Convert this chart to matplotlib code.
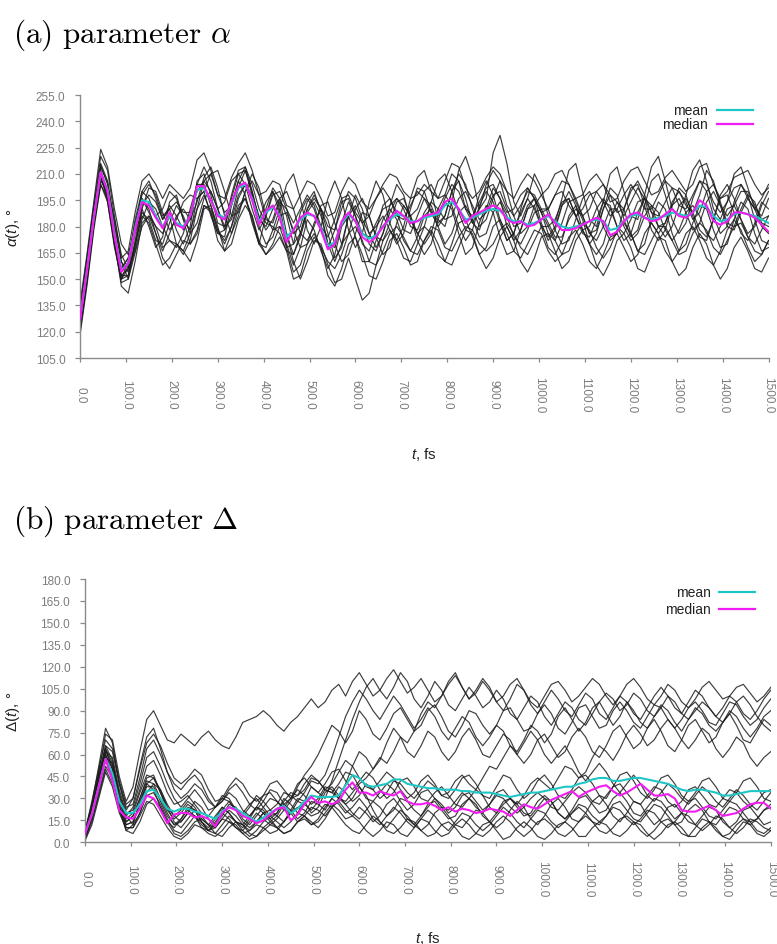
import numpy as np
import matplotlib
matplotlib.use("Agg")
import matplotlib.pyplot as plt
from matplotlib.ticker import MultipleLocator, StrMethodFormatter

plt.rcParams['font.family'] = ['Liberation Sans', 'DejaVu Sans']
plt.rcParams['mathtext.fontset'] = 'custom'
plt.rcParams['mathtext.rm'] = 'Liberation Sans'
plt.rcParams['mathtext.it'] = 'Liberation Sans:italic'

STEP = 15  # fs between stored samples

# ---- parameter alpha (deg) ----
alpha_median = [
    127, 155, 185, 211, 200, 175, 154, 159, 178, 194,
    192, 185, 179, 188, 181, 179, 186, 203, 203, 195,
    186, 184, 194, 203, 205, 195, 181, 189, 192, 185,
    171, 178, 185, 188, 186, 178, 167, 170, 183, 188,
    183, 174, 171, 174, 180, 185, 189, 186, 182, 183,
    186, 187, 188, 194, 196, 190, 182, 186, 188, 190,
    192, 190, 184, 182, 183, 180, 181, 184, 187, 182,
    178, 178, 179, 181, 183, 185, 183, 175, 177, 183,
    187, 188, 185, 183, 184, 187, 190, 186, 185, 188,
    195, 192, 183, 181, 183, 188, 188, 187, 185, 181,
    177]
alpha_mean = [
    127, 155, 185, 211, 201, 176, 155, 159, 179, 195,
    194, 186, 180, 186, 182, 180, 186, 201, 202, 195,
    187, 185, 193, 202, 204, 196, 183, 188, 191, 186,
    174, 178, 184, 187, 186, 179, 169, 171, 182, 187,
    183, 176, 173, 175, 180, 184, 187, 186, 183, 183,
    185, 186, 187, 192, 194, 190, 184, 185, 187, 189,
    190, 189, 185, 183, 183, 181, 182, 184, 186, 183,
    180, 179, 180, 181, 183, 184, 183, 178, 179, 183,
    186, 187, 185, 184, 185, 186, 188, 187, 186, 188,
    192, 191, 186, 183, 184, 187, 188, 187, 186, 184,
    182]
alpha_runs = [
    [122, 150, 183, 214, 205, 178, 150, 152, 172, 192,
     198, 194, 184, 190, 178, 170, 180, 204, 214, 206,
     190, 178, 186, 202, 212, 200, 184, 180, 190, 196,
     186, 170, 176, 190, 198, 190, 176, 162, 168, 186,
     198, 190, 176, 168, 176, 192, 204, 198, 184, 176,
     180, 194, 206, 210, 200, 188, 178, 184, 198, 206,
     198, 184, 172, 176, 190, 202, 196, 182, 172, 178,
     192, 200, 192, 178, 170, 176, 190, 202, 198, 184,
     174, 178, 192, 206, 210, 198, 184, 176, 182, 196,
     206, 200, 186, 176, 180, 194, 204, 198, 184, 172,
     170],
    [130, 158, 188, 208, 196, 170, 148, 150, 165, 180,
     186, 180, 168, 172, 170, 164, 172, 190, 198, 188,
     172, 166, 176, 190, 196, 186, 170, 168, 178, 180,
     168, 154, 158, 170, 176, 168, 152, 146, 156, 170,
     174, 164, 152, 150, 160, 172, 176, 168, 158, 160,
     172, 178, 170, 160, 158, 168, 178, 176, 164, 156,
     162, 174, 180, 172, 160, 154, 162, 174, 176, 166,
     156, 160, 172, 178, 170, 158, 152, 160, 172, 176,
     168, 156, 154, 164, 174, 172, 160, 152, 156, 168,
     176, 170, 158, 150, 156, 168, 174, 166, 156, 154,
     162],
    [134, 162, 192, 220, 212, 186, 162, 166, 188, 206,
     210, 204, 196, 204, 200, 196, 202, 218, 222, 212,
     198, 196, 208, 216, 222, 212, 198, 200, 206, 204,
     192, 190, 198, 206, 204, 196, 186, 188, 200, 208,
     204, 194, 190, 196, 204, 210, 208, 200, 196, 198,
     204, 200, 196, 206, 216, 214, 202, 196, 200, 208,
     214, 210, 200, 196, 204, 210, 206, 198, 202, 210,
     212, 204, 196, 198, 206, 210, 204, 194, 196, 206,
     212, 214, 206, 198, 200, 208, 212, 206, 200, 204,
     214, 216, 204, 196, 200, 208, 210, 212, 204, 198,
     202],
    [126, 153, 186, 212, 198, 172, 156, 162, 182, 196,
     190, 176, 166, 176, 186, 190, 184, 194, 208, 214,
     202, 186, 176, 186, 200, 210, 202, 186, 178, 190,
     204, 210, 196, 178, 170, 180, 196, 206, 196, 178,
     168, 176, 194, 206, 198, 182, 172, 180, 196, 208,
     212, 200, 184, 180, 194, 212, 220, 208, 190, 196,
     222, 232, 216, 194, 186, 196, 210, 202, 186, 182,
     196, 212, 216, 200, 184, 180, 194, 210, 214, 200,
     186, 184, 198, 214, 220, 206, 190, 186, 198, 212,
     218, 206, 190, 184, 194, 210, 214, 202, 190, 186,
     196],
    [118, 146, 178, 204, 196, 172, 146, 142, 160, 182,
     186, 176, 162, 156, 164, 172, 170, 178, 192, 190,
     178, 170, 180, 192, 196, 184, 170, 164, 170, 180,
     176, 160, 150, 160, 172, 170, 158, 148, 150, 162,
     150, 138, 142, 158, 172, 178, 172, 162, 160, 170,
     180, 176, 164, 160, 170, 182, 184, 174, 164, 168,
     180, 184, 176, 166, 162, 170, 178, 176, 166, 160,
     164, 174, 178, 170, 160, 156, 164, 174, 176, 168,
     160, 164, 176, 182, 176, 166, 160, 166, 176, 180,
     172, 162, 158, 166, 178, 184, 178, 168, 160, 164,
     172],
    [128, 156, 190, 216, 206, 182, 160, 150, 168, 190,
     202, 200, 188, 178, 184, 194, 198, 196, 200, 210,
     212, 200, 186, 188, 200, 206, 198, 184, 182, 194,
     190, 176, 180, 194, 200, 188, 170, 168, 182, 194,
     186, 170, 166, 178, 192, 196, 188, 178, 176, 186,
     196, 192, 182, 186, 200, 206, 196, 182, 178, 190,
     202, 196, 180, 172, 178, 190, 196, 188, 176, 172,
     182, 194, 196, 186, 176, 178, 190, 198, 194, 186,
     194, 202, 196, 182, 176, 182, 194, 200, 194, 184,
     188, 200, 204, 194, 182, 180, 190, 198, 194, 182,
     180],
    [124, 152, 182, 206, 200, 180, 160, 154, 170, 188,
     184, 172, 170, 182, 192, 186, 176, 182, 196, 200,
     190, 180, 184, 198, 204, 198, 186, 178, 184, 196,
     200, 190, 176, 172, 180, 192, 194, 182, 170, 176,
     190, 196, 186, 174, 172, 182, 194, 196, 186, 176,
     170, 176, 190, 198, 192, 180, 172, 178, 192, 200,
     194, 182, 172, 176, 188, 196, 190, 180, 174, 180,
     192, 196, 186, 176, 174, 184, 194, 192, 180, 172,
     176, 188, 196, 192, 180, 174, 180, 192, 196, 188,
     178, 174, 184, 196, 198, 188, 176, 172, 182, 194,
     190],
    [132, 160, 190, 210, 194, 168, 150, 160, 184, 200,
     196, 186, 190, 200, 196, 184, 178, 190, 206, 210,
     198, 188, 192, 206, 214, 204, 190, 182, 180, 176,
     166, 164, 176, 190, 196, 190, 180, 178, 190, 200,
     196, 184, 176, 180, 186, 178, 170, 176, 190, 202,
     200, 188, 180, 186, 200, 210, 204, 190, 180, 184,
     196, 206, 200, 186, 176, 180, 192, 198, 190, 178,
     170, 172, 184, 196, 200, 192, 180, 172, 176, 190,
     202, 204, 192, 178, 172, 178, 192, 202, 198, 186,
     174, 172, 184, 198, 204, 196, 184, 176, 180, 192,
     200],
    [120, 148, 180, 206, 202, 184, 164, 156, 166, 184,
     194, 190, 180, 172, 168, 176, 190, 204, 204, 192,
     178, 172, 180, 196, 204, 196, 180, 170, 174, 186,
     188, 178, 168, 170, 182, 190, 184, 170, 160, 164,
     176, 188, 186, 174, 164, 168, 182, 192, 186, 172,
     164, 170, 184, 194, 190, 176, 164, 168, 182, 192,
     188, 174, 164, 166, 178, 190, 192, 180, 168, 164,
     172, 186, 192, 184, 170, 164, 170, 184, 194, 190,
     176, 166, 170, 184, 194, 190, 176, 166, 170, 182,
     192, 190, 178, 168, 170, 184, 194, 190, 176, 166,
     168],
    [136, 164, 194, 224, 214, 190, 170, 164, 178, 196,
     188, 180, 176, 186, 170, 166, 176, 196, 200, 186,
     176, 178, 196, 210, 212, 198, 182, 190, 202, 196,
     176, 164, 174, 188, 194, 186, 170, 160, 170, 186,
     192, 182, 170, 166, 176, 188, 196, 190, 180, 178,
     188, 194, 190, 184, 186, 196, 200, 192, 184, 188,
     198, 200, 190, 180, 182, 192, 196, 188, 180, 184,
     194, 196, 186, 178, 180, 190, 196, 190, 180, 176,
     184, 194, 196, 188, 180, 182, 192, 196, 188, 178,
     182, 194, 200, 192, 180, 178, 188, 196, 190, 180,
     176],
    [125, 154, 187, 215, 204, 176, 152, 156, 176, 190,
     180, 168, 174, 194, 198, 184, 170, 176, 192, 188,
     176, 174, 192, 206, 198, 182, 170, 186, 200, 192,
     170, 158, 168, 184, 178, 166, 156, 164, 180, 186,
     174, 160, 160, 172, 184, 190, 184, 172, 166, 174,
     186, 190, 180, 170, 176, 188, 192, 184, 174, 176,
     188, 194, 186, 174, 170, 178, 188, 190, 182, 174,
     174, 184, 190, 186, 176, 172, 180, 190, 190, 180,
     172, 176, 186, 192, 188, 178, 172, 178, 188, 192,
     186, 176, 172, 180, 190, 192, 184, 174, 170, 178,
     186],
    [129, 157, 186, 208, 198, 174, 156, 162, 180, 198,
     204, 198, 186, 190, 194, 188, 188, 200, 206, 200,
     190, 194, 206, 210, 204, 190, 178, 186, 198, 200,
     190, 182, 190, 198, 192, 180, 174, 184, 196, 198,
     188, 182, 186, 196, 202, 196, 186, 184, 192, 200,
     196, 188, 186, 196, 204, 200, 190, 186, 194, 202,
     204, 196, 188, 190, 198, 202, 196, 188, 190, 198,
     200, 192, 186, 190, 198, 200, 194, 186, 190, 198,
     204, 198, 190, 190, 198, 206, 202, 192, 190, 198,
     206, 204, 194, 188, 194, 202, 204, 196, 190, 196,
     204],
    [121, 149, 181, 204, 194, 170, 152, 152, 170, 186,
     182, 170, 158, 162, 170, 166, 160, 172, 190, 192,
     180, 166, 170, 184, 192, 186, 172, 164, 168, 174,
     166, 150, 152, 166, 174, 168, 160, 156, 164, 176,
     180, 172, 160, 158, 166, 176, 180, 174, 166, 164,
     172, 180, 178, 168, 166, 174, 180, 178, 170, 166,
     170, 178, 182, 176, 168, 164, 172, 180, 180, 172,
     164, 166, 176, 182, 178, 168, 162, 168, 178, 182,
     176, 166, 164, 172, 180, 180, 172, 164, 166, 176,
     182, 178, 168, 164, 172, 180, 182, 174, 166, 164,
     172],
    [131, 159, 189, 212, 200, 172, 150, 156, 180, 200,
     206, 196, 184, 192, 186, 178, 184, 206, 210, 198,
     182, 180, 198, 212, 214, 200, 184, 194, 200, 188,
     168, 170, 188, 196, 190, 178, 168, 178, 194, 196,
     186, 176, 174, 182, 190, 192, 196, 192, 186, 190,
     200, 204, 196, 198, 210, 206, 190, 182, 190, 204,
     212, 206, 192, 186, 192, 200, 198, 190, 190, 198,
     206, 204, 194, 186, 190, 200, 204, 198, 188, 190,
     200, 206, 198, 188, 186, 194, 202, 200, 192, 188,
     198, 212, 206, 192, 186, 192, 200, 200, 192, 184,
     186],
]

# ---- parameter Delta (deg) ----
delta_median = [
    6, 19, 38, 57, 42, 22, 17, 16, 23, 32,
    30, 22, 13, 19, 20, 20, 17, 18, 16, 11,
    20, 24, 22, 18, 16, 13, 15, 19, 23, 24,
    15, 19, 26, 31, 27, 28, 26, 28, 36, 41,
    34, 34, 32, 35, 33, 32, 35, 28, 26, 26,
    27, 25, 22, 24, 21, 23, 22, 20, 21, 23,
    22, 21, 18, 22, 26, 24, 23, 26, 29, 31,
    33, 35, 31, 34, 36, 38, 39, 35, 32, 34,
    37, 40, 36, 32, 32, 33, 30, 22, 21, 21,
    23, 25, 22, 18, 19, 20, 23, 26, 27, 27,
    23]
delta_mean = [
    6, 19, 38, 57, 47, 28, 20, 20, 26, 35,
    36, 30, 23, 21, 23, 23, 21, 20, 18, 16,
    21, 24, 23, 20, 17, 14, 17, 20, 23, 25,
    20, 23, 28, 32, 31, 31, 31, 32, 39, 46,
    44, 39, 38, 39, 40, 43, 43, 40, 39, 38,
    37, 37, 36, 36, 36, 35, 35, 34, 34, 34,
    33, 32, 31, 32, 33, 34, 34, 35, 36, 37,
    38, 38, 40, 41, 43, 44, 44, 42, 42, 43,
    44, 44, 43, 42, 41, 40, 38, 36, 35, 36,
    36, 35, 34, 32, 32, 33, 34, 35, 35, 35,
    35]
delta_runs = [
    [4, 22, 48, 74, 70, 45, 28, 38, 62, 84,
     90, 80, 70, 68, 74, 70, 66, 72, 76, 70,
     66, 64, 72, 82, 84, 86, 90, 86, 80, 76,
     82, 86, 92, 98, 92, 96, 104, 108, 100, 110,
     116, 108, 100, 104, 112, 118, 110, 102, 106, 112,
     104, 96, 100, 108, 114, 106, 98, 102, 110, 104,
     96, 100, 108, 112, 104, 96, 92, 100, 108, 110,
     104, 96, 100, 106, 112, 108, 100, 94, 100, 108,
     112, 106, 98, 94, 100, 108, 104, 96, 92, 98,
     106, 110, 104, 98, 100, 106, 108, 102, 96, 100,
     106],
    [6, 20, 40, 60, 50, 28, 14, 18, 30, 44,
     46, 34, 22, 16, 20, 26, 22, 14, 10, 16,
     24, 20, 14, 10, 16, 24, 22, 16, 20, 30,
     26, 20, 28, 38, 34, 30, 42, 56, 70, 84,
     96, 106, 112, 104, 98, 106, 116, 110, 98, 92,
     100, 110, 104, 94, 90, 98, 106, 100, 92, 96,
     104, 98, 88, 84, 92, 100, 96, 86, 80, 88,
     96, 92, 84, 80, 88, 96, 102, 98, 90, 94,
     102, 98, 90, 86, 92, 100, 96, 88, 84, 90,
     96, 92, 86, 82, 88, 96, 100, 94, 86, 80,
     76],
    [2, 16, 36, 58, 54, 34, 18, 12, 20, 34,
     40, 36, 26, 18, 14, 20, 28, 24, 16, 12,
     18, 26, 24, 16, 12, 18, 24, 30, 28, 22,
     28, 38, 46, 52, 60, 70, 80, 76, 68, 76,
     90, 84, 74, 70, 78, 88, 92, 84, 76, 80,
     90, 94, 86, 76, 72, 80, 90, 88, 80, 74,
     80, 90, 92, 84, 76, 78, 88, 94, 88, 78,
     74, 82, 92, 94, 86, 78, 80, 90, 96, 90,
     82, 78, 86, 94, 92, 84, 78, 84, 92, 96,
     90, 82, 80, 88, 96, 94, 86, 80, 84, 92,
     98],
    [5, 24, 46, 66, 56, 32, 18, 24, 40, 58,
     62, 52, 40, 30, 24, 30, 36, 30, 22, 24,
     32, 30, 22, 18, 24, 32, 28, 22, 26, 34,
     32, 28, 34, 42, 40, 46, 58, 72, 86, 96,
     104, 98, 90, 84, 92, 100, 94, 86, 78, 84,
     92, 86, 76, 70, 78, 86, 82, 72, 66, 72,
     80, 76, 66, 60, 68, 76, 70, 60, 54, 60,
     66, 58, 48, 42, 48, 54, 48, 40, 34, 40,
     46, 40, 32, 28, 34, 40, 36, 30, 26, 32,
     38, 34, 28, 24, 30, 36, 32, 26, 22, 28,
     34],
    [3, 18, 38, 56, 46, 26, 12, 14, 26, 40,
     44, 36, 24, 14, 10, 16, 22, 18, 12, 10,
     16, 22, 18, 12, 8, 14, 20, 22, 18, 14,
     20, 28, 26, 22, 28, 36, 34, 30, 40, 52,
     62, 58, 50, 56, 68, 78, 72, 62, 58, 66,
     76, 72, 62, 56, 62, 72, 78, 70, 60, 58,
     66, 74, 70, 60, 54, 60, 70, 74, 66, 58,
     62, 72, 78, 72, 62, 58, 66, 76, 80, 72,
     64, 68, 78, 84, 76, 66, 62, 70, 80, 84,
     76, 68, 72, 82, 88, 80, 70, 68, 76, 84,
     80],
    [7, 26, 52, 78, 68, 40, 22, 30, 52, 72,
     78, 64, 48, 36, 30, 34, 40, 36, 28, 24,
     28, 34, 30, 22, 18, 24, 32, 34, 28, 24,
     30, 36, 32, 26, 30, 38, 36, 30, 28, 34,
     40, 44, 50, 58, 54, 62, 72, 68, 76, 88,
     96, 92, 100, 110, 116, 106, 98, 104, 112, 106,
     96, 90, 98, 108, 104, 94, 88, 96, 104, 98,
     90, 86, 94, 102, 98, 88, 84, 92, 100, 96,
     88, 84, 92, 100, 106, 100, 92, 88, 96, 104,
     100, 92, 86, 92, 100, 96, 88, 84, 90, 98,
     104],
    [4, 20, 42, 62, 52, 30, 16, 20, 34, 46,
     44, 34, 24, 18, 22, 28, 24, 16, 12, 18,
     24, 20, 14, 12, 18, 24, 20, 14, 18, 26,
     22, 16, 20, 28, 26, 22, 30, 38, 34, 28,
     32, 40, 36, 30, 34, 42, 40, 34, 30, 36,
     42, 38, 32, 34, 42, 46, 40, 36, 44, 52,
     50, 58, 66, 62, 70, 80, 76, 68, 74, 86,
     92, 84, 76, 82, 92, 96, 88, 80, 86, 96,
     90, 82, 78, 86, 94, 90, 82, 76, 84, 92,
     88, 80, 76, 82, 90, 86, 78, 72, 78, 86,
     90],
    [6, 22, 44, 64, 54, 30, 14, 18, 30, 42,
     40, 30, 20, 12, 16, 22, 18, 10, 8, 14,
     20, 16, 10, 8, 14, 20, 16, 12, 16, 22,
     20, 14, 18, 24, 22, 18, 24, 30, 26, 20,
     16, 22, 28, 24, 18, 22, 30, 28, 22, 18,
     24, 30, 26, 20, 24, 32, 34, 28, 22, 26,
     34, 36, 30, 26, 32, 40, 44, 40, 36, 44,
     52, 50, 44, 48, 58, 66, 62, 56, 64, 74,
     80, 74, 66, 70, 78, 84, 78, 70, 64, 70,
     78, 74, 64, 58, 64, 72, 68, 58, 52, 58,
     62],
    [3, 18, 40, 60, 46, 24, 10, 10, 20, 32,
     34, 26, 16, 8, 6, 12, 18, 14, 8, 6,
     12, 18, 14, 8, 4, 8, 14, 18, 14, 10,
     14, 20, 18, 12, 16, 24, 30, 26, 20, 24,
     30, 24, 16, 12, 18, 24, 20, 14, 10, 16,
     22, 18, 12, 8, 14, 20, 18, 12, 8, 12,
     18, 24, 20, 14, 10, 16, 22, 20, 14, 10,
     14, 20, 24, 20, 14, 12, 18, 24, 22, 16,
     12, 16, 22, 20, 14, 10, 14, 20, 18, 12,
     8, 12, 18, 16, 10, 6, 10, 16, 14, 10,
     8],
    [8, 26, 46, 64, 50, 24, 8, 12, 28, 40,
     36, 24, 14, 10, 16, 24, 22, 14, 8, 12,
     22, 28, 22, 14, 10, 14, 20, 16, 10, 14,
     22, 30, 28, 20, 24, 34, 38, 32, 26, 30,
     38, 32, 22, 14, 10, 16, 22, 18, 12, 8,
     12, 20, 24, 18, 12, 10, 16, 22, 20, 14,
     10, 14, 22, 28, 24, 16, 12, 18, 26, 30,
     24, 16, 14, 20, 28, 32, 26, 18, 14, 20,
     28, 26, 18, 12, 16, 24, 26, 20, 14, 12,
     18, 24, 22, 14, 10, 14, 22, 24, 18, 12,
     14],
    [2, 14, 32, 50, 40, 22, 8, 6, 14, 26,
     30, 24, 14, 6, 4, 8, 14, 16, 12, 6,
     4, 10, 14, 12, 6, 4, 8, 12, 10, 6,
     8, 14, 18, 14, 10, 16, 24, 28, 22, 18,
     14, 8, 4, 8, 14, 12, 6, 4, 10, 16,
     14, 8, 4, 6, 12, 16, 12, 6, 4, 8,
     14, 18, 14, 8, 4, 8, 14, 16, 12, 6,
     4, 8, 14, 18, 14, 8, 6, 10, 16, 18,
     14, 8, 4, 8, 14, 16, 12, 6, 4, 10,
     16, 14, 8, 4, 6, 12, 16, 14, 8, 6,
     10],
    [5, 20, 42, 62, 58, 36, 20, 22, 36, 52,
     56, 46, 34, 26, 28, 32, 26, 20, 18, 24,
     30, 28, 22, 20, 26, 30, 24, 18, 20, 28,
     34, 32, 36, 44, 42, 36, 34, 40, 48, 46,
     38, 30, 28, 34, 40, 36, 28, 22, 26, 34,
     36, 30, 24, 22, 28, 34, 30, 24, 20, 26,
     32, 30, 24, 20, 24, 30, 34, 30, 24, 22,
     28, 34, 38, 34, 28, 26, 32, 38, 40, 34,
     28, 26, 32, 38, 36, 28, 24, 28, 36, 38,
     32, 26, 24, 30, 36, 34, 28, 24, 28, 34,
     36],
    [4, 16, 34, 52, 44, 24, 12, 14, 26, 38,
     38, 28, 18, 12, 14, 20, 18, 12, 8, 10,
     16, 14, 10, 6, 8, 12, 10, 6, 8, 14,
     20, 24, 22, 18, 20, 26, 24, 18, 12, 8,
     6, 12, 18, 14, 8, 6, 10, 16, 14, 8,
     4, 6, 12, 14, 10, 4, 2, 6, 12, 14,
     8, 2, 4, 10, 14, 10, 4, 2, 6, 12,
     14, 10, 4, 4, 10, 14, 12, 6, 4, 8,
     14, 12, 6, 2, 6, 12, 14, 10, 4, 4,
     10, 14, 10, 4, 2, 8, 14, 12, 6, 4,
     8],
    [6, 22, 44, 66, 62, 40, 24, 26, 44, 64,
     70, 60, 48, 40, 36, 42, 46, 40, 30, 24,
     28, 36, 40, 34, 26, 22, 28, 36, 34, 26,
     30, 40, 44, 38, 34, 40, 48, 50, 42, 36,
     42, 48, 44, 36, 30, 34, 42, 44, 38, 30,
     28, 34, 38, 32, 26, 24, 30, 36, 32, 24,
     20, 26, 30, 26, 20, 18, 24, 30, 28, 20,
     16, 20, 26, 24, 18, 14, 18, 26, 28, 22,
     16, 14, 20, 26, 24, 18, 12, 14, 22, 26,
     22, 14, 12, 18, 24, 22, 16, 12, 16, 22,
     24],
    [1, 12, 30, 48, 38, 20, 10, 10, 18, 28,
     26, 18, 10, 4, 2, 6, 12, 10, 6, 4,
     8, 14, 12, 6, 2, 4, 10, 14, 10, 6,
     8, 14, 16, 12, 14, 20, 26, 22, 16, 18,
     24, 20, 14, 18, 26, 30, 24, 16, 12, 18,
     26, 28, 22, 16, 18, 26, 30, 26, 18, 14,
     20, 28, 30, 24, 18, 20, 28, 32, 28, 20,
     16, 22, 30, 32, 26, 20, 22, 30, 34, 28,
     20, 18, 24, 30, 28, 22, 16, 20, 28, 30,
     24, 18, 16, 22, 28, 26, 20, 14, 16, 22,
     26],
    [7, 28, 50, 70, 64, 42, 26, 30, 50, 68,
     74, 66, 54, 44, 40, 44, 50, 46, 36, 28,
     30, 38, 44, 40, 32, 28, 32, 40, 42, 36,
     30, 32, 40, 46, 42, 36, 40, 48, 56, 52,
     44, 38, 36, 42, 48, 44, 36, 30, 34, 42,
     46, 40, 32, 30, 36, 44, 46, 40, 32, 30,
     38, 46, 44, 36, 30, 34, 42, 46, 40, 32,
     30, 36, 44, 46, 40, 32, 30, 38, 46, 48,
     42, 34, 30, 36, 44, 46, 40, 32, 28, 34,
     42, 44, 38, 30, 28, 34, 42, 44, 38, 30,
     28],
]

GREY = '#8a8a8a'
LABEL_GREY = '#7c7c7c'
MEAN_COLOR = '#1fc6c6'
MEDIAN_COLOR = '#f21cf2'


def time_axis(values):
    return np.arange(len(values)) * STEP


def draw_panel(ax, runs, mean, median, ylim, ylabel, legend_y):
    for run in runs:
        ax.plot(time_axis(run), run, color='#1c1c1c', lw=0.85, alpha=0.85,
                solid_joinstyle='round', zorder=1)
    ax.plot(time_axis(mean), mean, color=MEAN_COLOR, lw=1.5, zorder=3)
    ax.plot(time_axis(median), median, color=MEDIAN_COLOR, lw=1.5, zorder=4)

    ax.set_xlim(0, 1500)
    ax.set_ylim(*ylim)
    ax.xaxis.set_major_locator(MultipleLocator(100))
    ax.yaxis.set_major_locator(MultipleLocator(15))
    ax.xaxis.set_major_formatter(StrMethodFormatter('{x:.1f}'))
    ax.yaxis.set_major_formatter(StrMethodFormatter('{x:.1f}'))

    for side in ('top', 'right'):
        ax.spines[side].set_visible(False)
    for side in ('left', 'bottom'):
        ax.spines[side].set_color(GREY)
        ax.spines[side].set_linewidth(1.0)

    ax.tick_params(axis='y', direction='out', length=3.6, width=0.9, color=GREY,
                   labelsize=8.5, labelcolor=LABEL_GREY, pad=7)
    ax.tick_params(axis='x', direction='out', length=3.0, width=0.9, color=GREY,
                   labelsize=8.5, labelcolor=LABEL_GREY, pad=23)
    for lab in ax.get_xticklabels():
        lab.set_rotation(-90)
        lab.set_va('center')
        lab.set_ha('center')

    ax.set_ylabel(ylabel, fontsize=11, color='#222222')
    ax.yaxis.label.set_va('center')
    ax.set_xlabel('$t$, fs', fontsize=11, color='#222222')
    ax.xaxis.label.set_va('center')

    # legend: label on the left, line sample on the right
    for name, color, y in (('mean', MEAN_COLOR, legend_y[0]),
                           ('median', MEDIAN_COLOR, legend_y[1])):
        ax.text(0.912, y, name, transform=ax.transAxes, ha='right', va='center',
                fontsize=10, color='#222222')
        ax.plot([0.925, 0.977], [y, y], transform=ax.transAxes, color=color,
                lw=1.6, clip_on=False)


fig = plt.figure(figsize=(7.77, 9.45), dpi=100)

ax_a = fig.add_axes([0.1030, 0.6201, 0.8861, 0.2783])
draw_panel(ax_a, alpha_runs, alpha_mean, alpha_median, (105, 255),
           r'$\alpha(t)$, °', (0.943, 0.890))
ax_a.yaxis.set_label_coords(-0.097, 0.5)
ax_a.xaxis.set_label_coords(0.5, -0.365)

ax_b = fig.add_axes([0.1094, 0.1076, 0.8826, 0.2786])
draw_panel(ax_b, delta_runs, delta_mean, delta_median, (0, 180),
           r'Δ($t$), °', (0.951, 0.886))
ax_b.yaxis.set_label_coords(-0.105, 0.5)
ax_b.xaxis.set_label_coords(0.5, -0.360)

fig.text(13 / 777, 1 - 35 / 945, r'$\mathrm{(a)\ parameter}\ \alpha$',
         fontsize=22.5, va='center', ha='left', math_fontfamily='cm')
fig.text(13 / 777, 1 - 521 / 945, r'$\mathrm{(b)\ parameter}\ \Delta$',
         fontsize=22.5, va='center', ha='left', math_fontfamily='cm')

fig.savefig('out.png', dpi=100, facecolor='white')
